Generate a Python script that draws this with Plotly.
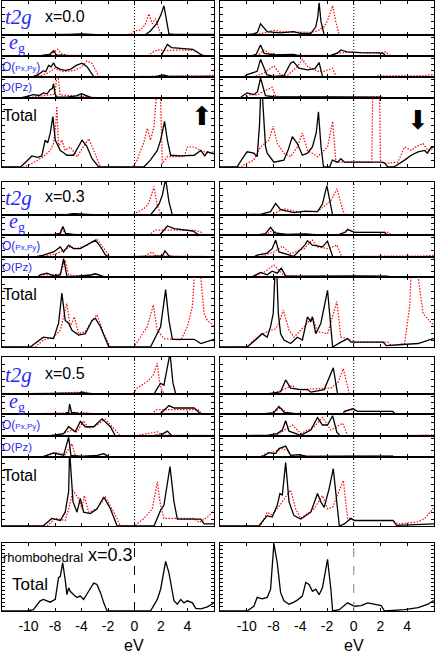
import plotly.graph_objects as go

# ---------------------------------------------------------------
# DOS curves: (energy in eV, DOS in panel units 0-10)
# k = black solid, r = red dotted; up = left column, dn = right column
# ---------------------------------------------------------------

# x = 0.0
up00_t2g_k = [(-10, 0), (-7, 0), (-6.2, 0.2), (-5, 0.2), (-4, 0.3), (-3, 0.2), (-2.5, 0), (0.8, 0), (1.2, 1.2), (1.7, 3.5), (2.0, 6), (2.22, 8.6), (2.4, 4), (2.6, 0.3), (3, 0.2), (4, 0.15), (5, 0.2), (6, 0.2)]
up00_t2g_r = [(-10, 0), (-6.5, 0), (-6, 0.15), (-4, 0.2), (-2.5, 0.1), (-0.6, 0), (-0.2, 0.5), (0, 1.2), (0.45, 1.5), (0.8, 3), (1.09, 6.2), (1.34, 3.3), (1.59, 4.8), (1.8, 2), (1.97, 0.2), (2.5, 0.1), (6, 0.1)]
up00_eg_k = [(-10, 0), (-7.5, 0), (-7, 0.3), (-6.4, 0.8), (-6.1, 2.5), (-5.9, 0.5), (-5, 0.2), (-3, 0.1), (-2.5, 0), (2.0, 0), (2.2, 2.5), (2.48, 5.5), (2.8, 4.0), (3.5, 3.6), (4.4, 3.2), (4.9, 1.2), (5.1, 0.2), (6, 0.1)]
up00_eg_r = [(-10, 0), (-7, 0), (-6.3, 0.8), (-5.8, 3.2), (-5.5, 1.0), (-5, 0.3), (-3, 0.2), (-2.5, 0), (1.0, 0), (1.3, 1.5), (1.7, 2.9), (2.5, 2.6), (3.5, 2.9), (4.5, 2.6), (5.0, 0.8), (5.3, 0.2), (6, 0.1)]
up00_pxy_k = [(-10, 0), (-7.8, 0), (-7.3, 1.0), (-6.87, 3.0), (-6.7, 2.5), (-6.49, 5.5), (-6.3, 4.8), (-6.11, 6.8), (-5.95, 4.8), (-5.6, 3.6), (-5.2, 3.2), (-4.85, 3.6), (-4.4, 5.5), (-3.96, 6.6), (-3.6, 5.0), (-3.3, 2.0), (-3.08, 0.2), (-2.8, 0), (1.5, 0), (1.9, 0.6), (2.2, 1.0), (2.5, 0.4), (6, 0.3)]
up00_pxy_r = [(-10, 0), (-7.6, 0), (-7.0, 0.8), (-6.5, 2.0), (-6.0, 4.2), (-5.7, 3.0), (-5.3, 2.5), (-5.0, 2.7), (-4.5, 3.2), (-4.0, 4.8), (-3.6, 7.6), (-3.2, 6.5), (-2.95, 3.0), (-2.7, 0.3), (-2.4, 0), (0.2, 0), (0.8, 0.3), (2.0, 0.5), (3, 0.3), (4, 0.4), (5, 0.4), (5.6, 0.6), (6, 0.8)]
up00_pz_k = [(-10, 0), (-8.6, 0), (-8.1, 0.8), (-7.63, 1.6), (-7.2, 1.2), (-6.87, 2.4), (-6.6, 2.0), (-6.36, 4.0), (-6.2, 4.5), (-6.11, 6.8), (-6.0, 2.0), (-5.86, 0.4), (-5.0, 0.5), (-4.4, 1.0), (-4.0, 2.0), (-3.7, 1.2), (-3.3, 0.3), (-3.0, 0), (6, 0.1)]
up00_pz_r = [(-10, 0), (-8.2, 0), (-7.6, 0.5), (-7.0, 1.0), (-6.4, 1.3), (-6.0, 1.8), (-5.88, 9.6), (-5.75, 9.6), (-5.62, 1.5), (-5.0, 1.2), (-4.2, 1.0), (-3.5, 0.8), (-3.0, 0.3), (-2.7, 0), (0, 0), (2, 0.2), (6, 0.2)]
up00_tot_k = [(-10, 0), (-8.6, 0), (-8.1, 0.9), (-7.75, 1.6), (-7.3, 1.4), (-7.0, 1.6), (-6.74, 3.9), (-6.55, 3.5), (-6.36, 4.9), (-6.16, 7.3), (-5.98, 3.9), (-5.6, 2.4), (-5.3, 2.0), (-5.1, 1.7), (-4.6, 1.7), (-4.3, 2.8), (-3.96, 3.9), (-3.6, 3.0), (-3.2, 1.2), (-2.7, 0), (0.7, 0), (1.2, 1.0), (1.72, 2.4), (1.97, 3.9), (2.27, 6.6), (2.48, 3.9), (2.73, 1.7), (3.5, 1.6), (4.5, 1.7), (5.0, 2.4), (5.3, 1.6), (5.5, 2.2), (6, 1.9)]
up00_tot_r = [(-10, 0), (-8.3, 0), (-7.75, 0.5), (-6.87, 1.5), (-6.36, 2.4), (-6.11, 3.4), (-5.95, 6), (-5.86, 8.8), (-5.73, 2.9), (-5.48, 3.9), (-5.23, 2.4), (-4.85, 2.9), (-4.34, 1.5), (-3.84, 2.9), (-3.46, 4.1), (-3.1, 2.5), (-2.57, 0), (-0.1, 0), (0.2, 1.0), (0.46, 2.4), (0.7, 3.5), (0.96, 5.6), (1.21, 3.9), (1.47, 5.9), (1.68, 11), (1.95, 11), (2.1, 0.5), (2.48, 1.5), (3.74, 1.5), (3.99, 2.9), (4.5, 2.9), (5.0, 2.4), (5.5, 2.0), (6, 2.2)]

dn00_t2g_k = [(-10, 0), (-8.23, 0), (-7.5, 0.3), (-7.2, 0.8), (-6.97, 3.3), (-6.47, 1.0), (-5.5, 0.6), (-4.5, 1.0), (-4.0, 0.5), (-3.2, 0.5), (-2.84, 2.4), (-2.7, 5), (-2.59, 9.5), (-2.45, 4), (-2.21, 0), (6, 0)]
dn00_t2g_r = [(-10, 0), (-7.7, 0), (-6.7, 0.6), (-5.97, 1.4), (-5.2, 0.9), (-4.2, 0.8), (-3.2, 0.8), (-2.71, 1.2), (-2.2, 2.5), (-1.96, 4.3), (-1.58, 8.6), (-1.35, 4), (-1.08, 0), (2.0, 0), (2.2, 0.2), (2.4, 0), (6, 0)]
dn00_eg_k = [(-10, 0), (-7.7, 0), (-7.3, 0.8), (-6.97, 5.2), (-6.7, 1.2), (-6, 0.5), (-4.5, 0.8), (-4.2, 0.3), (-3, 0.2), (-1.75, 0.2), (-1.2, 1.5), (-0.96, 2.9), (-0.5, 2.0), (0.5, 1.6), (1.8, 1.5), (2.2, 1.3), (2.4, 0), (6, 0)]
dn00_eg_r = [(-10, 0), (-7.5, 0), (-7.0, 1.0), (-6.72, 2.9), (-6.3, 1.2), (-5.5, 0.5), (-3, 0.3), (-1.75, 0.3), (-1.2, 1.3), (-0.5, 1.8), (1, 1.5), (2.05, 1.6), (2.4, 2.0), (2.6, 0.5), (2.9, 0), (6, 0)]
dn00_pxy_k = [(-10, 0), (-8.2, 0), (-7.97, 1.1), (-7.22, 2.7), (-6.97, 8.4), (-6.5, 1.1), (-6, 0.3), (-5.22, 0.6), (-4.72, 6.6), (-4.52, 7.3), (-4.09, 4.2), (-3.46, 3.4), (-2.9, 4), (-2.59, 6.9), (-2.34, 0.3), (-2.2, 0), (6, 0)]
dn00_pxy_r = [(-10, 0), (-7.5, 0), (-6.72, 1.9), (-5.97, 5.3), (-5.47, 1.1), (-4.97, 0.6), (-4.22, 5.0), (-3.84, 8.4), (-3.46, 5.0), (-2.71, 2.7), (-2.21, 2.7), (-1.58, 4.2), (-1.33, 0.3), (-1.1, 0), (1.5, 0), (1.8, 0.6), (3, 0.5), (4.5, 0.5), (5.2, 0.6), (5.6, 1.0), (6, 1.0)]
dn00_pz_k = [(-10, 0), (-8.5, 0), (-8.35, 0.8), (-7.97, 2.4), (-7.47, 1.6), (-7.2, 3), (-6.97, 9.5), (-6.6, 1.1), (-6, 0.6), (-3, 0.5), (0, 0.6), (2, 0.4), (2.3, 0), (6, 0)]
dn00_pz_r = [(-10, 0), (-8.2, 0), (-7.72, 1.6), (-7.2, 1.5), (-6.72, 3.2), (-6.1, 5.2), (-5.84, 0.8), (-5, 0.6), (-2, 0.6), (1, 0.6), (2, 0.5), (2.3, 0), (6, 0)]
dn00_tot_k = [(-10, 0), (-8.73, 0), (-8.23, 1.5), (-7.97, 2.2), (-7.47, 2.0), (-7.22, 1.5), (-7.05, 6), (-6.95, 11), (-6.85, 11), (-6.6, 3), (-6.47, 2.0), (-5.97, 0.7), (-5.22, 1.0), (-4.9, 2.5), (-4.59, 4.4), (-4.22, 3.4), (-3.84, 1.7), (-3.46, 2.0), (-3.09, 2.9), (-2.8, 5), (-2.64, 8.0), (-2.45, 3), (-2.26, 0), (-1.8, 0), (-1.6, 1.0), (-1.2, 0.7), (-0.96, 1.2), (-0.7, 0.7), (2.0, 0.7), (2.3, 0.6), (2.55, 0), (3.0, 0), (3.8, 1.0), (4.3, 1.7), (4.81, 2.2), (5.31, 2.4), (5.5, 2.0), (5.81, 2.9), (6, 2.9)]
dn00_tot_r = [(-10, 0), (-8.4, 0), (-8.23, 0.3), (-7.47, 1.0), (-6.97, 2.9), (-6.35, 3.9), (-6.02, 5.9), (-5.72, 3.4), (-5.22, 2.0), (-4.72, 1.5), (-4.22, 2.9), (-3.84, 4.9), (-3.46, 2.4), (-2.71, 1.5), (-1.96, 2.9), (-1.58, 6.6), (-1.33, 0.7), (-1.0, 0.7), (1.35, 0.7), (1.42, 11), (1.93, 11), (2.0, 1.0), (2.3, 0.5), (3.3, 0.7), (3.8, 2.9), (4.3, 2.4), (4.7, 3.0), (5.18, 3.4), (5.56, 2.4), (5.93, 2.7), (6, 2.7)]

# x = 0.3
up03_t2g_k = [(-10, 0), (-6, 0), (-5.0, 0.2), (-4.6, 0.4), (-4.0, 0.2), (-3, 0), (1.21, 0), (1.5, 1.5), (1.85, 3.3), (2.1, 6), (2.35, 11), (2.6, 4), (2.86, 0), (6, 0)]
up03_t2g_r = [(-10, 0), (-6, 0), (-5, 0.2), (-4.6, 0.4), (-4, 0.2), (-0.1, 0), (0, 0.5), (0.3, 1.0), (0.7, 1.9), (1.0, 3.0), (1.21, 5.2), (1.47, 8.6), (1.72, 2.9), (1.97, 0.3), (2.3, 0), (4.8, 0), (4.95, 0.3), (5.1, 0), (6, 0)]
up03_eg_k = [(-10, 0), (-7, 0), (-6, 0.2), (-5.6, 0.8), (-5.4, 4.2), (-5.2, 0.8), (-4.5, 0.2), (-3, 0), (1.9, 0), (2.1, 1.5), (2.48, 4.5), (3.0, 3.2), (4.0, 2.5), (4.4, 2.0), (4.75, 0.5), (5.0, 0), (6, 0)]
up03_eg_r = [(-10, 0), (-7, 0), (-6.5, 0.3), (-5.7, 0.6), (-5.48, 3.3), (-5.2, 0.5), (-4.6, 0.3), (-3.5, 0.4), (-3, 0.2), (1.2, 0), (1.34, 1.5), (1.6, 2.5), (3, 2.5), (4.6, 2.3), (5.0, 1.5), (5.2, 0), (6, 0)]
up03_pxy_k = [(-10, 0), (-7.5, 0), (-6.87, 0.8), (-6.11, 2.3), (-5.6, 4.6), (-5.35, 2.3), (-4.97, 5.4), (-4.6, 3.8), (-4.09, 3.8), (-3.58, 5.4), (-2.95, 7.7), (-2.6, 5), (-2.2, 1), (-1.94, 0), (0, 0), (1.0, 0.3), (2.1, 0.5), (2.3, 2.8), (2.6, 0.5), (3, 0), (6, 0)]
up03_pxy_r = [(-10, 0), (-7, 0), (-5.86, 1.5), (-5.35, 3.1), (-4.85, 4.6), (-4.34, 3.8), (-3.58, 5.4), (-2.83, 8.0), (-2.45, 5), (-2.0, 1), (-1.82, 0), (0, 0), (0.8, 0.5), (1.34, 2.3), (1.6, 0.6), (2.5, 0.4), (3.5, 0.5), (4.5, 0.3), (6, 0.2)]
up03_pz_k = [(-10, 0), (-7.3, 0), (-7.12, 1.1), (-6.61, 1.9), (-6.11, 0.6), (-5.6, 1.1), (-5.35, 9.2), (-5.1, 0.3), (-4.5, 0.3), (-3.3, 1.0), (-2.95, 1.6), (-2.5, 0.5), (-2.2, 0), (6, 0)]
up03_pz_r = [(-10, 0), (-7.1, 0), (-6.87, 1.1), (-6.3, 1.0), (-5.6, 1.5), (-5.23, 8.4), (-4.97, 1.1), (-4.3, 0.5), (-3.3, 1.0), (-2.95, 1.6), (-2.5, 0.4), (-2.2, 0), (6, 0.1)]
up03_tot_k = [(-10, 0), (-7.88, 0), (-6.87, 1.4), (-6.11, 1.2), (-5.73, 3.4), (-5.48, 7.7), (-5.23, 3.8), (-4.97, 3.4), (-4.72, 2.4), (-4.22, 1.7), (-3.71, 1.9), (-3.2, 3.8), (-2.95, 4.1), (-2.57, 2.9), (-1.94, 0), (1.21, 0), (1.97, 2.9), (2.35, 8.2), (2.6, 3.8), (2.86, 1.1), (4.5, 1.1), (5.0, 0.5), (6, 1.1)]
up03_tot_r = [(-10, 0), (-7.5, 0), (-6.87, 1.0), (-6.11, 1.4), (-5.6, 2.4), (-5.1, 6.2), (-4.85, 2.9), (-4.54, 4.3), (-4.22, 1.9), (-3.71, 2.2), (-3.2, 3.8), (-2.83, 4.6), (-2.32, 1.9), (-1.82, 0), (-0.05, 0), (0.5, 1.5), (0.96, 2.9), (1.42, 6.0), (1.72, 2.4), (2.22, 1.2), (3.5, 1.0), (3.99, 2.9), (4.37, 5.8), (4.55, 11), (4.95, 11), (5.25, 4.8), (5.5, 3.8), (5.76, 3.4), (6, 2.9)]

dn03_t2g_k = [(-10, 0), (-7.5, 0), (-6.97, 0.2), (-6.22, 1.0), (-5.84, 3.5), (-5.47, 1.6), (-4.47, 0.7), (-3.66, 1.2), (-2.71, 1.0), (-2.34, 3.3), (-2.01, 8.9), (-1.58, 0), (6, 0)]
dn03_t2g_r = [(-10, 0), (-6, 0), (-5.72, 1.0), (-5.22, 1.9), (-4.22, 1.0), (-2.71, 1.0), (-1.71, 4.3), (-1.26, 7.9), (-0.71, 0), (6, 0)]
dn03_eg_k = [(-10, 0), (-7.2, 0), (-6.6, 0.7), (-6.22, 3.8), (-5.9, 1.0), (-5, 0.3), (-3.6, 0.5), (-3, 0.2), (-1.2, 0), (-0.6, 1.5), (-0.46, 2.8), (0.05, 1.3), (2.3, 1.3), (2.5, 0), (6, 0)]
dn03_eg_r = [(-10, 0), (-7, 0), (-6.4, 0.8), (-6.1, 2.5), (-5.7, 0.8), (-5, 0.3), (-3, 0.3), (-1.3, 0), (-0.7, 1.5), (-0.46, 2.6), (0.1, 1.3), (2.6, 1.3), (2.8, 0), (6, 0)]
dn03_pxy_k = [(-10, 0), (-7.5, 0), (-7.22, 0.8), (-6.47, 1.8), (-6.1, 3.8), (-5.84, 7.7), (-5.59, 2.3), (-4.5, 0.3), (-3.66, 5.4), (-3.46, 7.4), (-3.09, 5.4), (-2.71, 4.9), (-2.34, 4.6), (-1.96, 7.2), (-1.58, 0.3), (-1.4, 0), (6, 0)]
dn03_pxy_r = [(-10, 0), (-7, 0), (-5.97, 2.3), (-5.34, 4.9), (-4.72, 1.5), (-3.71, 3.8), (-3.09, 7.7), (-2.71, 4.6), (-1.96, 3.8), (-1.26, 5.4), (-0.91, 0.3), (-0.7, 0), (0, 0), (0.5, 0.3), (3, 0.4), (5, 0.4), (6, 0.8)]
dn03_pz_k = [(-10, 0), (-7.7, 0), (-7.47, 0.6), (-6.97, 2.3), (-6.47, 1.1), (-6.1, 2.9), (-5.72, 1.9), (-5.42, 4.4), (-5.09, 0.6), (-3, 0.4), (0, 0.5), (2.5, 0.4), (2.7, 0), (6, 0)]
dn03_pz_r = [(-10, 0), (-7.5, 0), (-7.22, 1.1), (-6.72, 2.3), (-5.97, 6.0), (-5.59, 3.5), (-5.22, 0.6), (-3, 0.4), (0, 0.4), (2.7, 0.3), (2.9, 0), (6, 0)]
dn03_tot_k = [(-10, 0), (-7.97, 0), (-7.35, 1.0), (-6.85, 1.9), (-6.47, 1.4), (-6.22, 2.9), (-6.02, 4.8), (-5.88, 11), (-5.76, 11), (-5.64, 4.8), (-5.47, 1.9), (-5.22, 1.0), (-4.72, 0.5), (-4.22, 1.4), (-3.84, 1.0), (-3.46, 4.3), (-3.21, 3.6), (-3.09, 4.3), (-2.84, 1.9), (-2.46, 3.4), (-1.96, 8.1), (-1.58, 0), (-0.96, 0.7), (-0.46, 1.2), (-0.21, 0.7), (2.2, 0.7), (2.43, 0.2), (3.5, 0.3), (4.81, 0.5), (5.93, 1.2), (6, 1.2)]
dn03_tot_r = [(-10, 0), (-7.97, 0), (-7.47, 1.0), (-6.97, 1.7), (-6.22, 2.4), (-5.84, 2.6), (-5.59, 3.4), (-5.27, 5.3), (-4.84, 2.4), (-4.47, 1.4), (-3.71, 2.9), (-3.09, 4.3), (-2.71, 2.2), (-1.96, 1.9), (-1.26, 6.5), (-0.96, 1.4), (-0.46, 1.2), (0, 0.7), (2.55, 0.7), (2.8, 0.2), (3.8, 0.5), (4.18, 5.8), (4.3, 11), (4.75, 11), (5.18, 4.8), (5.43, 4.3), (5.81, 3.4), (6, 3.2)]

# x = 0.5
up05_t2g_k = [(-10, 0), (-5, 0), (-4.3, 0.2), (-3.96, 0.5), (-3.6, 0.2), (-3, 0), (1.47, 0), (1.72, 1.5), (1.97, 2.9), (2.22, 2.4), (2.5, 8), (2.68, 11), (2.9, 3), (3.11, 0), (6, 0)]
up05_t2g_r = [(-10, 0), (-6.2, 0), (-5.7, 0.3), (-4.5, 0.4), (-3.7, 0.5), (-3.5, 0.2), (-3, 0), (-0.1, 0), (0.2, 1.6), (0.96, 3.4), (1.4, 5), (1.72, 8.3), (1.9, 3), (2.1, 0.7), (2.4, 0), (6, 0)]
up05_eg_k = [(-10, 0), (-6, 0), (-5.2, 0.3), (-4.97, 1.0), (-4.9, 5.0), (-4.75, 0.8), (-4.2, 0.3), (-3.5, 0.2), (-3, 0), (1.9, 0), (2.1, 1.0), (2.6, 4.2), (3.0, 3.0), (4.5, 3.0), (4.75, 1.5), (5.0, 0), (6, 0)]
up05_eg_r = [(-10, 0), (-7, 0), (-6.5, 0.3), (-5, 0.6), (-4.6, 0.8), (-3.5, 0.5), (-3, 0), (1.34, 0), (1.6, 2.0), (2.0, 2.2), (4.8, 2.2), (5.0, 0.8), (5.2, 0), (6, 0)]
up05_pxy_k = [(-10, 0), (-6.5, 0), (-5.35, 1.1), (-4.97, 4.2), (-4.47, 1.9), (-4.09, 6.6), (-3.71, 4.2), (-3.08, 4.2), (-2.45, 7.8), (-1.82, 4.2), (-1.44, 0), (0, 0), (1.5, 0.3), (2.0, 0.5), (2.48, 2.2), (2.8, 0.3), (3, 0), (6, 0)]
up05_pxy_r = [(-10, 0), (-6, 0), (-5.6, 0.6), (-4.72, 2.7), (-4.34, 1.9), (-3.84, 6.9), (-3.46, 3.4), (-2.83, 5.0), (-2.2, 7.7), (-1.44, 2.7), (-1.06, 0), (0, 0), (0.5, 0.6), (1.72, 1.9), (2.1, 0.5), (3, 0.3), (6, 0.3)]
up05_pz_k = [(-10, 0), (-7, 0), (-6.61, 0.8), (-6.11, 1.9), (-5.35, 0.8), (-4.97, 9.5), (-4.8, 0.8), (-4, 0.3), (-2.8, 0.8), (-2.32, 1.6), (-2.0, 0.3), (-1.8, 0), (6, 0)]
up05_pz_r = [(-10, 0), (-7, 0), (-6.49, 1.1), (-5.86, 2.1), (-5.23, 1.1), (-4.72, 6.3), (-4.47, 0.8), (-4, 0.4), (-2.8, 0.8), (-2.32, 1.6), (-2.0, 0.3), (-1.8, 0), (0.5, 0.2), (4.8, 0.3), (5, 0), (6, 0)]
up05_tot_k = [(-10, 0), (-6.9, 0), (-6.24, 1.1), (-5.6, 0.8), (-5.23, 2.0), (-4.97, 5), (-4.9, 11), (-4.64, 3.5), (-4.34, 2.0), (-4.09, 4.0), (-3.84, 2.0), (-3.33, 1.8), (-2.83, 2.5), (-2.32, 4.2), (-1.82, 2.5), (-1.31, 0), (1.47, 0), (1.97, 2.3), (2.22, 3.0), (2.68, 8.6), (2.98, 3.5), (3.23, 1.0), (5.0, 1.0), (5.25, 0.3), (6, 0.3)]
up05_tot_r = [(-10, 0), (-6.6, 0), (-5.98, 1.1), (-5.23, 0.8), (-4.97, 2.5), (-4.64, 5.1), (-4.22, 4.0), (-3.96, 2.5), (-3.79, 4.4), (-3.46, 2.0), (-2.83, 2.5), (-2.2, 4.2), (-1.56, 2.0), (-1.06, 0), (0, 0), (0.71, 1.1), (1.34, 2.5), (1.72, 6.4), (1.97, 3.0), (2.22, 1.1), (4.5, 1.1), (4.88, 0.5), (5.51, 1.3), (6, 2.3)]

dn05_t2g_k = [(-10, 0), (-6.5, 0), (-5.47, 0.6), (-5.09, 3.8), (-4.72, 1.6), (-4.0, 1.2), (-3.46, 1.2), (-3.21, 0.5), (-2.21, 1.2), (-1.83, 4.3), (-1.53, 7.1), (-1.21, 0), (6, 0)]
dn05_t2g_r = [(-10, 0), (-6, 0), (-5.72, 0.5), (-4.59, 2.3), (-4.22, 1.2), (-1.71, 1.6), (-1.2, 3), (-0.78, 6.8), (-0.33, 0), (6, 0)]
dn05_eg_k = [(-10, 0), (-6.8, 0), (-6.0, 0.5), (-5.59, 3.8), (-5.2, 0.8), (-4.5, 0.3), (-3, 0.2), (-0.8, 0), (-0.7, 1.3), (-0.08, 2.7), (0.3, 1.3), (2.9, 1.3), (3.1, 0), (6, 0)]
dn05_eg_r = [(-10, 0), (-6.8, 0), (-6.0, 0.8), (-5.47, 3.0), (-5.0, 0.8), (-4.5, 0.3), (-3, 0.2), (-0.8, 0), (-0.6, 1.3), (-0.08, 2.2), (0.3, 1.3), (2.9, 1.3), (3.1, 0), (6, 0)]
dn05_pxy_k = [(-10, 0), (-7, 0), (-6.47, 0.3), (-5.72, 1.1), (-5.34, 2.7), (-5.09, 6.9), (-4.84, 2.2), (-3.96, 0.3), (-3.21, 2.7), (-2.71, 8.4), (-2.34, 5.0), (-1.96, 5.0), (-1.58, 9.2), (-1.26, 1.6), (-1.0, 0), (6, 0)]
dn05_pxy_r = [(-10, 0), (-6, 0), (-5.72, 0.6), (-4.59, 5.0), (-3.96, 1.1), (-2.96, 4.2), (-2.34, 8.4), (-1.71, 2.7), (-0.83, 5.8), (-0.46, 0.3), (-0.2, 0), (0, 0), (0.5, 0.3), (4.5, 0.3), (6, 0.5)]
dn05_pz_k = [(-10, 0), (-7, 0), (-6.72, 0.5), (-6.35, 2.1), (-5.84, 1.6), (-5.59, 4.0), (-5.09, 5.2), (-4.72, 0.8), (-4.09, 1.1), (-3.5, 0.3), (0, 0.4), (2.9, 0.4), (3.0, 0), (6, 0)]
dn05_pz_r = [(-10, 0), (-7, 0), (-6.6, 1.6), (-5.97, 2.4), (-5.34, 4.0), (-4.97, 3.2), (-4.72, 0.8), (-4, 0.4), (0, 0.4), (2.9, 0.4), (3.0, 0), (6, 0)]
dn05_tot_k = [(-10, 0), (-7.1, 0), (-6.47, 1.5), (-6.1, 1.3), (-5.72, 3.0), (-5.52, 4.7), (-5.34, 4.5), (-5.09, 9.2), (-4.84, 3.5), (-4.47, 1.5), (-3.96, 1.0), (-3.21, 2.0), (-2.71, 4.7), (-2.46, 3.5), (-2.21, 2.7), (-1.83, 5.5), (-1.53, 8.3), (-1.21, 3.0), (-1.08, 0), (-0.71, 0.3), (-0.21, 1.1), (0.05, 0.8), (2.93, 0.8), (3.2, 0.1), (5.31, 0.3), (6, 0.3)]
dn05_tot_r = [(-10, 0), (-6.97, 0), (-6.47, 2.0), (-6.1, 1.6), (-5.72, 2.5), (-4.72, 5.2), (-4.34, 2.5), (-3.96, 1.1), (-2.96, 2.5), (-2.34, 4.4), (-1.96, 2.5), (-1.58, 2.7), (-0.78, 6.6), (-0.46, 1.1), (-0.21, 1.1), (0.05, 0.8), (2.93, 0.8), (3.3, 0.3), (4.81, 0.6), (5.31, 1.1), (5.93, 2.5), (6, 2.6)]

# rhombohedral x = 0.3, total only
rh_up_tot = [(-10, 0), (-8.13, 0), (-7.63, 0.2), (-7.12, 1.5), (-6.87, 1.7), (-6.61, 1.5), (-6.36, 1.3), (-5.98, 1.7), (-5.73, 4.9), (-5.6, 5.1), (-5.42, 7.1), (-5.23, 4.6), (-5.1, 2.4), (-4.97, 3.4), (-4.85, 2.9), (-4.59, 2.4), (-4.34, 2.0), (-4.09, 2.2), (-3.84, 1.7), (-3.46, 2.9), (-3.08, 4.1), (-2.83, 3.9), (-2.57, 2.7), (-2.32, 1.2), (-2.07, 0), (1.21, 0), (1.72, 1.7), (1.97, 3.2), (2.35, 7.3), (2.6, 5.6), (2.73, 4.1), (2.98, 1.5), (3.23, 1.0), (3.49, 1.7), (3.74, 1.2), (3.99, 1.5), (4.37, 1.2), (4.62, 0.4), (5.0, 0.3), (5.51, 0.6), (6, 1.2)]
rh_dn_tot = [(-10, 0), (-7.97, 0), (-7.47, 0.7), (-7.22, 2.0), (-6.85, 1.8), (-6.47, 2.0), (-6.22, 3.2), (-5.97, 9.9), (-5.72, 7.1), (-5.47, 2.7), (-5.22, 1.5), (-4.84, 1.0), (-4.47, 1.3), (-4.22, 1.6), (-3.84, 2.2), (-3.59, 4.2), (-3.34, 3.9), (-3.09, 2.9), (-2.84, 3.2), (-2.59, 2.4), (-2.34, 3.4), (-1.96, 7.6), (-1.71, 3.2), (-1.58, 0), (-1.08, 0.2), (-0.46, 1.2), (0.05, 0.7), (0.55, 0.8), (1.05, 1.2), (1.55, 1.0), (2.05, 0.8), (2.3, 0), (3.8, 0.2), (4.81, 0.5), (5.56, 1.0), (5.93, 1.5), (6, 1.5)]

tick_e = [-8, -6, -4, -2, 0, 2, 4]
tick_txt = ['-10', '-8', '-4', '-2', '0', '2', '4']
comp_labels = ['x=0.0', 'x=0.3', 'x=0.5']

# ---------------------------------------------------------------
W, H = 436, 654
BLUE = '#2b2bf2'
SANS = 'Liberation Sans, Arial, sans-serif'
SERIF = 'Liberation Serif, DejaVu Serif, serif'
RED_DOT = '1.5px,1.5px'

COLS = [(2, 214), (220, 434)]
BLOCK_EDGES = [
    [1, 35, 56, 77, 98, 167],
    [182, 215, 235, 257, 277, 347],
    [357, 394, 414, 436, 457, 526],
]
ROW_DTICK = [2, 3, 3, 3, 1]

blocks = [
    ([(up00_t2g_k, up00_t2g_r), (up00_eg_k, up00_eg_r), (up00_pxy_k, up00_pxy_r), (up00_pz_k, up00_pz_r), (up00_tot_k, up00_tot_r)],
     [(dn00_t2g_k, dn00_t2g_r), (dn00_eg_k, dn00_eg_r), (dn00_pxy_k, dn00_pxy_r), (dn00_pz_k, dn00_pz_r), (dn00_tot_k, dn00_tot_r)]),
    ([(up03_t2g_k, up03_t2g_r), (up03_eg_k, up03_eg_r), (up03_pxy_k, up03_pxy_r), (up03_pz_k, up03_pz_r), (up03_tot_k, up03_tot_r)],
     [(dn03_t2g_k, dn03_t2g_r), (dn03_eg_k, dn03_eg_r), (dn03_pxy_k, dn03_pxy_r), (dn03_pz_k, dn03_pz_r), (dn03_tot_k, dn03_tot_r)]),
    ([(up05_t2g_k, up05_t2g_r), (up05_eg_k, up05_eg_r), (up05_pxy_k, up05_pxy_r), (up05_pz_k, up05_pz_r), (up05_tot_k, up05_tot_r)],
     [(dn05_t2g_k, dn05_t2g_r), (dn05_eg_k, dn05_eg_r), (dn05_pxy_k, dn05_pxy_r), (dn05_pz_k, dn05_pz_r), (dn05_tot_k, dn05_tot_r)]),
]

fig = go.Figure()
axes = {}
shapes = []
annotations = []
count = [0]


def px(x, y):
    return x / W, 1 - y / H


def label(text, xp, yp, font, xanchor='left'):
    ax_, ay_ = px(xp, yp)
    annotations.append(dict(text=text, x=ax_, y=ay_, xref='paper', yref='paper',
                            xanchor=xanchor, yanchor='middle', showarrow=False, font=font))


def add_panel(x0, x1, y0, y1, dtick, curves, labels=False):
    count[0] += 1
    n = count[0]
    sx = '' if n == 1 else str(n)
    xa, ya = 'x' + sx, 'y' + sx
    axes['xaxis' + sx] = dict(
        domain=[x0 / W, x1 / W], range=[-10, 6], anchor=ya,
        showgrid=False, zeroline=False, showline=True, mirror='ticks',
        linecolor='black', linewidth=1, ticks='inside', ticklen=3,
        tickcolor='black', tickvals=tick_e, ticktext=tick_txt,
        showticklabels=labels, ticklabelstandoff=2,
        tickfont=dict(family=SANS, size=14, color='black'))
    axes['yaxis' + sx] = dict(
        domain=[1 - y1 / H, 1 - y0 / H], range=[0, 10], anchor=xa,
        showgrid=False, zeroline=False, showline=True, mirror='ticks',
        linecolor='black', linewidth=1, ticks='inside', ticklen=3,
        tickcolor='black', dtick=dtick, showticklabels=False)
    for pts, color, dash, width in curves:
        fig.add_trace(go.Scatter(
            x=[p[0] for p in pts], y=[p[1] for p in pts], mode='lines',
            line=dict(color=color, dash=dash, width=width),
            xaxis=xa, yaxis=ya, showlegend=False, hoverinfo='skip'))
    return xa


for b, (left, right) in enumerate(blocks):
    edges = BLOCK_EDGES[b]
    for c, col in enumerate((left, right)):
        x0, x1 = COLS[c]
        xa = None
        for r, (blk, red) in enumerate(col):
            xa = add_panel(x0, x1, edges[r], edges[r + 1], ROW_DTICK[r],
                           [(red, 'red', RED_DOT, 1.2), (blk, 'black', 'solid', 1.3)])
        shapes.append(dict(type='line', xref=xa, yref='paper', x0=0, x1=0,
                           y0=1 - edges[-1] / H, y1=1 - edges[0] / H,
                           line=dict(color='black', width=1, dash='1px,2px')))

    label('<i>t2g</i>', 3, (edges[0] + edges[1]) / 2 - 1, dict(family=SERIF, size=21, color=BLUE))
    label('<i>e</i><sub>g</sub>', 7, (edges[1] + edges[2]) / 2 - 2, dict(family=SERIF, size=20, color=BLUE))
    label("O(<span style='font-size:8px'>Px,Py</span>)", 0, (edges[2] + edges[3]) / 2,
          dict(family=SANS, size=12, color=BLUE))
    label('O(Pz)', 0, (edges[3] + edges[4]) / 2, dict(family=SANS, size=11.5, color=BLUE))
    label('Total', 1, edges[4] + 18, dict(family=SANS, size=16, color='black'))
    label(comp_labels[b], 43, (edges[0] + edges[1]) / 2 - 2, dict(family=SANS, size=16, color='black'))

# spin arrows
label('⬆', 202, 116, dict(family='DejaVu Sans', size=26, color='black'), xanchor='center')
label('⬇', 418, 120, dict(family='DejaVu Sans', size=26, color='black'), xanchor='center')

# rhombohedral block
for c, (pts, dcol) in enumerate([(rh_up_tot, 'black'), (rh_dn_tot, 'gray')]):
    x0, x1 = COLS[c]
    xa = add_panel(x0, x1, 543, 611, 0.6, [(pts, 'black', 'solid', 1.3)], labels=True)
    shapes.append(dict(type='line', xref=xa, yref='paper', x0=0, x1=0,
                       y0=1 - 611 / H, y1=1 - 543 / H,
                       line=dict(color=dcol, width=1, dash='dash')))
    label('eV', 134 if c == 0 else 354, 645, dict(family=SANS, size=16, color='black'), xanchor='center')

label('rhombohedral', 1, 557, dict(family=SANS, size=13, color='black'))
label('x=0.3', 86, 555, dict(family=SANS, size=18, color='black'))
label('Total', 10, 584, dict(family=SANS, size=17, color='black'))

fig.update_layout(
    width=W, height=H,
    margin=dict(l=0, r=0, t=0, b=0),
    paper_bgcolor='white', plot_bgcolor='white',
    shapes=shapes, annotations=annotations,
    **axes)

# the page's default body margin would shift the figure by 8px
fig.write_html("out.html", config={'displayModeBar': False},
               post_script="document.body.style.margin='0px';")
